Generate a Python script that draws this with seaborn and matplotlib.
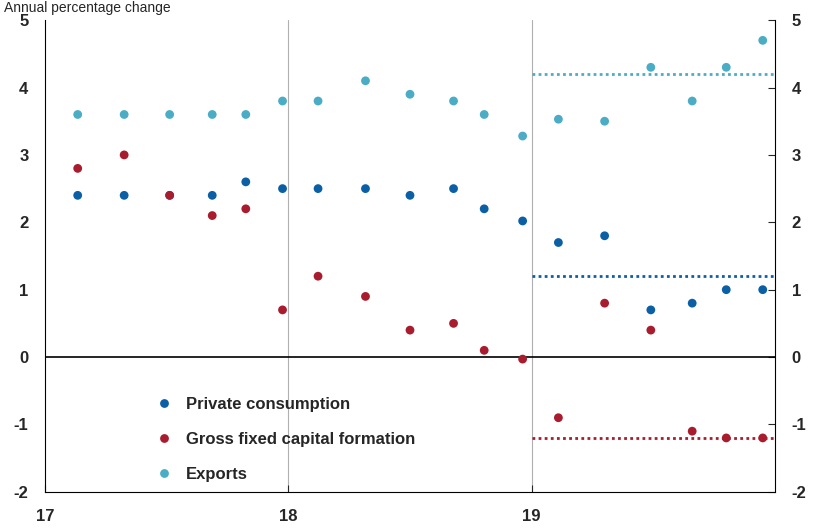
import matplotlib
matplotlib.use("Agg")
import matplotlib.pyplot as plt
import seaborn as sns
import pandas as pd

sns.set_style("white")
plt.rcParams['font.family'] = ['Liberation Sans', 'DejaVu Sans']

x = [17.134, 17.325, 17.512, 17.687, 17.825, 17.976, 18.122, 18.317, 18.5,
     18.679, 18.805, 18.963, 19.11, 19.30, 19.49, 19.66, 19.80, 19.95]
private = [2.4, 2.4, 2.4, 2.4, 2.6, 2.5, 2.5, 2.5, 2.4, 2.5, 2.2, 2.02, 1.7, 1.8, 0.7, 0.8, 1.0, 1.0]
gfcf = [2.8, 3.0, 2.4, 2.1, 2.2, 0.7, 1.2, 0.9, 0.4, 0.5, 0.1, -0.03, -0.9, 0.8, 0.4, -1.1, -1.2, -1.2]
exports = [3.6, 3.6, 3.6, 3.6, 3.6, 3.8, 3.8, 4.1, 3.9, 3.8, 3.6, 3.28, 3.53, 3.5, 4.3, 3.8, 4.3, 4.7]
avg_private, avg_gfcf, avg_exports = 1.2, -1.2, 4.2
names = ["Private consumption", "Gross fixed capital formation", "Exports"]
colors = ["#0b5fa5", "#a81c2e", "#4bacc6"]

df = pd.concat([pd.DataFrame({"x": x, "y": v, "s": n})
                for v, n in zip([private, gfcf, exports], names)])

fig = plt.figure(figsize=(8.2, 5.3), dpi=100)
ax = fig.add_axes([0.055, 0.072, 0.89, 0.89])
sns.scatterplot(data=df, x="x", y="y", hue="s", palette=colors, s=40,
                edgecolor="none", ax=ax, zorder=3)
for v, c in zip([avg_private, avg_gfcf, avg_exports], colors):
    ax.plot([19, 20], [v, v], ls=(0, (1, 1.2)), lw=2, color=c)
ax.axhline(0, color="black", lw=1.2)
for v in [18, 19]:
    ax.axvline(v, color="#b0b0b0", lw=0.8, zorder=0)
ax.set_xlim(17, 20)
ax.set_ylim(-2, 5)
ax.set_xticks([17, 18, 19])
ax.set_xticklabels(["17", "18", "19"], fontweight="bold", fontsize=12)
ax.set_yticks(range(-2, 6))
ax.set_yticklabels([str(i) for i in range(-2, 6)], fontweight="bold", fontsize=12)
ax.tick_params(axis="y", which="both", right=True, labelright=True, direction="in", length=5, pad=12)
ax.tick_params(axis="x", direction="in", length=5, bottom=True, pad=12)
ax.set_xlabel("")
ax.set_ylabel("")
for s in ["left", "right", "bottom"]:
    ax.spines[s].set_color("black")
ax.spines["top"].set_visible(False)
leg = ax.legend(loc="lower left", bbox_to_anchor=(0.12, -0.01), frameon=False,
                prop={"weight": "bold", "size": 12}, labelspacing=1.2, handletextpad=0.3)
fig.text(0.005, 0.985, "Annual percentage change", fontsize=10, va="center")
fig.savefig("out.png", dpi=100)
